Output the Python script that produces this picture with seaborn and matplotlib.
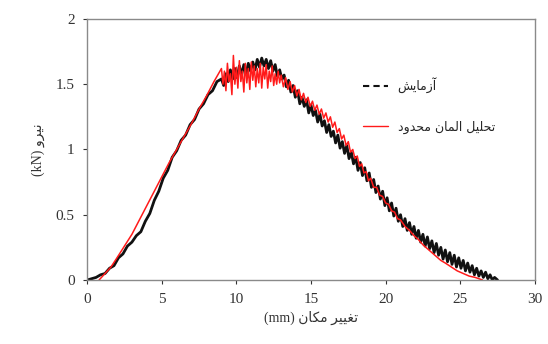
import matplotlib
matplotlib.use("Agg")
import matplotlib.pyplot as plt
from matplotlib.lines import Line2D
import seaborn as sns
import pandas as pd

# ---------------- data ----------------
exp_x = [0.0, 0.3, 0.6, 0.9, 1.2, 1.5, 1.8, 2.1, 2.4, 2.7, 3.0, 3.3, 3.6, 3.9, 4.2, 4.5, 4.8, 5.1, 5.4, 5.7,
         6.0, 6.3, 6.6, 6.9, 7.2, 7.5, 7.8, 8.1, 8.4, 8.7, 9.0,
         9.15, 9.3, 9.45, 9.6, 9.75, 9.9, 10.05, 10.2, 10.35, 10.5, 10.65, 10.8, 10.95, 11.1, 11.25, 11.4,
         11.55, 11.7, 11.85, 12.0, 12.15, 12.3, 12.45, 12.6, 12.75, 12.9, 13.05, 13.2, 13.35, 13.5, 13.65,
         13.8, 13.95, 14.1, 14.25, 14.4, 14.55, 14.7, 14.85, 15.0, 15.15, 15.3, 15.45, 15.6, 15.75, 15.9,
         16.05, 16.2, 16.35, 16.5, 16.65, 16.8, 16.95, 17.1, 17.25, 17.4, 17.55, 17.7, 17.85, 18.0, 18.15,
         18.3, 18.45, 18.6, 18.75, 18.9, 19.05, 19.2, 19.35, 19.5, 19.65, 19.8, 19.95, 20.1, 20.25, 20.4,
         20.55, 20.7, 20.85, 21.0, 21.15, 21.3, 21.45, 21.6, 21.75, 21.9, 22.05, 22.2, 22.35, 22.5, 22.65,
         22.8, 22.95, 23.1, 23.25, 23.4, 23.55, 23.7, 23.85, 24.0, 24.15, 24.3, 24.45, 24.6, 24.75, 24.9,
         25.05, 25.2, 25.35, 25.5, 25.65, 25.8, 25.95, 26.1, 26.25, 26.4, 26.55, 26.7, 26.85, 27.0, 27.15,
         27.3, 27.5]
exp_y = [0.00, 0.01, 0.02, 0.04, 0.05, 0.09, 0.11, 0.17, 0.20, 0.26, 0.29, 0.34, 0.37, 0.45, 0.51, 0.61,
         0.68, 0.78, 0.84, 0.94, 0.99, 1.07, 1.11, 1.19, 1.23, 1.31, 1.35, 1.42, 1.45, 1.52, 1.54,
         1.49, 1.58, 1.52, 1.61, 1.54, 1.62, 1.55, 1.64, 1.57, 1.65, 1.58, 1.66, 1.60, 1.67, 1.61, 1.69,
         1.63, 1.70, 1.64, 1.69, 1.62, 1.68, 1.60, 1.65, 1.56, 1.61, 1.54, 1.57, 1.48, 1.53, 1.44,
         1.49, 1.40, 1.45, 1.35, 1.40, 1.33, 1.38, 1.28, 1.34, 1.26, 1.30, 1.21, 1.27, 1.18, 1.22,
         1.13, 1.19, 1.10, 1.14, 1.05, 1.11, 1.01, 1.06, 0.97, 1.03, 0.93, 0.98, 0.89, 0.94, 0.84,
         0.90, 0.80, 0.86, 0.76, 0.82, 0.71, 0.77, 0.67, 0.72, 0.62, 0.68, 0.57, 0.63, 0.53, 0.59,
         0.49, 0.55, 0.45, 0.50, 0.41, 0.47, 0.38, 0.44, 0.35, 0.41, 0.32, 0.38, 0.29, 0.35, 0.26,
         0.33, 0.24, 0.30, 0.21, 0.28, 0.19, 0.25, 0.16, 0.23, 0.14, 0.21, 0.12, 0.19, 0.10, 0.17,
         0.09, 0.15, 0.07, 0.13, 0.06, 0.11, 0.04, 0.09, 0.03, 0.07, 0.02, 0.06, 0.01, 0.04, 0.00,
         0.02, 0.00]

fem_x = [0.8, 1.2, 1.6, 2.0, 2.5, 3.0, 3.5, 4.0, 4.5, 5.0, 5.5, 6.0, 6.5, 7.0, 7.5, 8.0, 8.5, 8.8, 9.0,
         9.1, 9.2, 9.3, 9.4, 9.5, 9.6, 9.7, 9.8, 9.9, 10.0, 10.1, 10.2, 10.3, 10.4, 10.5, 10.6, 10.7,
         10.8, 10.9, 11.0, 11.1, 11.2, 11.3, 11.4, 11.5, 11.6, 11.7, 11.8, 11.9, 12.0, 12.1, 12.2, 12.3,
         12.4, 12.5, 12.6, 12.7, 12.8, 12.9, 13.0, 13.15, 13.3, 13.45, 13.6, 13.75, 13.9, 14.05, 14.2,
         14.35, 14.5, 14.65, 14.8, 14.95, 15.1, 15.25, 15.4, 15.55, 15.7, 15.85, 16.0, 16.15, 16.3,
         16.45, 16.6, 16.75, 16.9, 17.05, 17.2, 17.35, 17.5, 17.65, 17.8, 17.95, 18.1, 18.25, 18.4,
         18.55, 18.7, 18.85, 19.0, 19.2, 19.4, 19.6, 19.8, 20.0, 20.2, 20.4, 20.6, 20.8, 21.0, 21.3,
         21.6, 21.9, 22.2, 22.5, 22.8, 23.1, 23.4, 23.7, 24.0, 24.4, 24.8, 25.2, 25.6, 26.0, 26.5]
fem_y = [0.00, 0.05, 0.10, 0.17, 0.26, 0.35, 0.46, 0.57, 0.68, 0.79, 0.90, 1.00, 1.10, 1.20, 1.31, 1.41,
         1.52, 1.58, 1.62,
         1.50, 1.60, 1.45, 1.66, 1.52, 1.58, 1.42, 1.72, 1.50, 1.63, 1.47, 1.68, 1.52, 1.60, 1.44, 1.66,
         1.51, 1.62, 1.46, 1.67, 1.53, 1.64, 1.48, 1.62, 1.51, 1.66, 1.47, 1.63, 1.54, 1.65, 1.47, 1.60,
         1.52, 1.64, 1.49, 1.58, 1.50, 1.60, 1.51, 1.57, 1.48, 1.55, 1.46, 1.52, 1.44, 1.49, 1.41, 1.46,
         1.38, 1.43, 1.36, 1.40, 1.33, 1.37, 1.30, 1.34, 1.27, 1.31, 1.24, 1.28, 1.21, 1.25,
         1.17, 1.21, 1.13, 1.16, 1.08, 1.11, 1.03, 1.06, 0.98, 1.00, 0.93, 0.95, 0.87, 0.89,
         0.82, 0.83, 0.76, 0.78, 0.71, 0.71, 0.65, 0.64, 0.59, 0.58, 0.53, 0.52, 0.47, 0.46, 0.41,
         0.38, 0.34, 0.31, 0.27, 0.24, 0.21, 0.18, 0.15, 0.13, 0.10, 0.07, 0.05, 0.03, 0.02, 0.00]

x_ticks = [0, 5, 10, 15, 20, 25, 30]
y_ticks = [0, 0.5, 1, 1.5, 2]
y_tick_labels = ["0", "0.5", "1", "1.5", "2"]

label_exp = "آزمایش"
label_fem = "تحلیل المان محدود"
x_label = "تغییر مکان (mm)"
y_label = "نیرو (kN)"

# ------------- Arabic/Persian shaping (visual order for matplotlib) -------------
FORMS = {
    'ا': ('\uFE8D', '\uFE8E', None, None),
    'آ': ('\uFE81', '\uFE82', None, None),
    'ت': ('\uFE95', '\uFE96', '\uFE97', '\uFE98'),
    'ح': ('\uFEA1', '\uFEA2', '\uFEA3', '\uFEA4'),
    'د': ('\uFEA9', '\uFEAA', None, None),
    'ر': ('\uFEAD', '\uFEAE', None, None),
    'ز': ('\uFEAF', '\uFEB0', None, None),
    'ش': ('\uFEB5', '\uFEB6', '\uFEB7', '\uFEB8'),
    'غ': ('\uFECD', '\uFECE', '\uFECF', '\uFED0'),
    'ل': ('\uFEDD', '\uFEDE', '\uFEDF', '\uFEE0'),
    'م': ('\uFEE1', '\uFEE2', '\uFEE3', '\uFEE4'),
    'ن': ('\uFEE5', '\uFEE6', '\uFEE7', '\uFEE8'),
    'و': ('\uFEED', '\uFEEE', None, None),
    'ی': ('\uFBFC', '\uFBFD', '\uFBFE', '\uFBFF'),
    'ک': ('\uFB8E', '\uFB8F', '\uFB90', '\uFB91'),
}


def shape_word(w):
    out = []
    for i, ch in enumerate(w):
        if ch not in FORMS:
            out.append(ch)
            continue
        prev = w[i - 1] if i > 0 else None
        nxt = w[i + 1] if i + 1 < len(w) else None
        jp = prev in FORMS and FORMS[prev][2] is not None
        jn = FORMS[ch][2] is not None and nxt in FORMS
        iso, fin, ini, med = FORMS[ch]
        if jp and jn:
            out.append(med)
        elif jp:
            out.append(fin)
        elif jn:
            out.append(ini)
        else:
            out.append(iso)
    return "".join(out)


def rtl(text):
    words = text.split(" ")
    vis = []
    for w in reversed(words):
        if any(c in FORMS for c in w):
            vis.append(shape_word(w)[::-1])
        else:
            vis.append(w)
    return " ".join(vis)


# ---------------- plot ----------------
sns.set_style("white")
plt.rcParams["font.family"] = ["Liberation Serif", "DejaVu Sans"]

fig = plt.figure(figsize=(5.48, 3.44), dpi=100)
ax = fig.add_axes([0.159, 0.186, 0.817, 0.759])

df_exp = pd.DataFrame({"x": exp_x, "y": exp_y})
df_fem = pd.DataFrame({"x": fem_x, "y": fem_y})

sns.lineplot(data=df_exp, x="x", y="y", sort=False, color="#111111", lw=2.0, ax=ax)
sns.lineplot(data=df_fem, x="x", y="y", sort=False, color="#ff1a1a", lw=1.1, ax=ax)

ax.set_xlim(0, 30)
ax.set_ylim(0, 2)
ax.set_xticks(x_ticks)
ax.set_yticks(y_ticks)
ax.set_yticklabels(y_tick_labels)
ax.tick_params(axis="both", labelsize=11, colors="#333333", direction="out", length=3,
               width=0.8, bottom=True, left=True, pad=6)
for s in ax.spines.values():
    s.set_color("#8a8a8a")
    s.set_linewidth(1.0)

ax.set_xlabel(rtl(x_label), fontsize=10, color="#333333", labelpad=4,
              family=["Liberation Serif", "DejaVu Sans"])
ax.set_ylabel(rtl(y_label), fontsize=10, color="#333333", labelpad=8,
              family=["Liberation Serif", "DejaVu Sans"])

handles = [Line2D([], [], color="#111111", lw=1.5, ls=(0, (3, 2))),
           Line2D([], [], color="#ff1a1a", lw=1.0)]
ax.legend(handles, [rtl(label_exp), rtl(label_fem)], loc="upper left",
          bbox_to_anchor=(0.59, 0.82), frameon=False,
          handlelength=2.0, labelspacing=2.2,
          prop={"family": ["DejaVu Sans"], "size": 9})

fig.savefig("out.png", dpi=100)
